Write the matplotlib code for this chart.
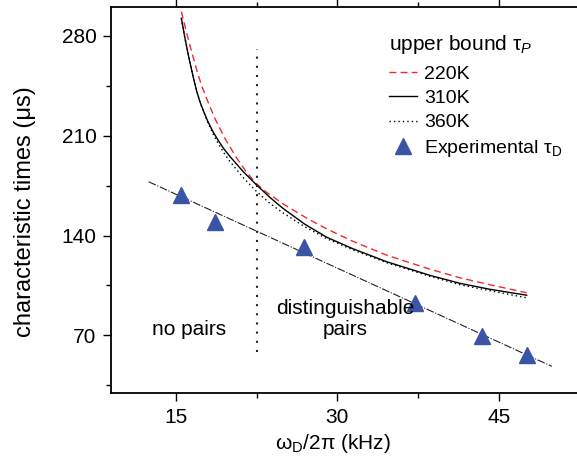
"""Characteristic times vs drive frequency: upper bounds and experimental points."""

import matplotlib

matplotlib.use("Agg")
import matplotlib.pyplot as plt
from matplotlib.ticker import MultipleLocator

# upper bound tau_P curves
X_220K = [15.53, 15.99, 16.46, 17.07, 17.46, 17.85, 18.62, 19.55, 20.63, 21.50,
          22.42, 23.35, 24.93, 26.23, 27.43, 29.01, 31.42, 34.58, 38.57, 41.35,
          44.14, 47.57]
Y_220K = [297.1, 283.0, 269.5, 253.0, 244.2, 236.5, 222.4, 208.4, 194.7, 185.2,
          176.8, 170.8, 162.4, 156.4, 151.0, 144.7, 136.0, 126.2, 116.4, 110.4,
          105.5, 99.8]

X_310K = [15.53, 15.84, 16.21, 16.67, 16.95, 17.23, 17.60, 17.97, 18.43, 18.90,
          19.45, 20.01, 21.22, 22.42, 23.72, 24.93, 26.97, 29.01, 31.42, 34.58,
          38.57, 41.35, 44.14, 47.57]
Y_310K = [292.4, 279.3, 265.3, 249.8, 241.4, 234.3, 227.0, 220.3, 213.3, 207.3,
          201.0, 195.7, 185.2, 176.1, 166.9, 159.2, 148.0, 138.8, 130.8, 121.6,
          112.1, 106.5, 102.3, 98.1]

X_360K = [15.53, 15.84, 16.21, 16.67, 16.95, 17.23, 17.60, 17.97, 18.43, 18.90,
          19.45, 20.01, 21.22, 22.42, 23.72, 24.93, 26.97, 29.01, 31.42, 34.58,
          38.57, 41.35, 44.14, 47.57]
Y_360K = [292.4, 279.3, 265.3, 249.8, 241.4, 234.3, 226.6, 219.6, 211.9, 205.2,
          198.2, 192.2, 181.0, 171.5, 162.7, 156.0, 146.2, 137.8, 130.0, 120.9,
          111.4, 105.5, 101.3, 96.3]

# experimental tau_D
EXP_X = [15.51, 18.62, 26.88, 37.25, 43.47, 47.62]
EXP_Y = [168.5, 149.6, 131.6, 92.8, 69.6, 56.3]

# linear guide through the experimental points (end points)
FIT_X = [12.5, 49.9]
FIT_Y = [177.7, 48.2]

BOUNDARY_X = 22.5
BOUNDARY_Y = [58.0, 271.0]

X_TICKS = [15, 30, 45]
Y_TICKS = [70, 140, 210, 280]


def main() -> None:
    plt.rcParams["font.family"] = ["Liberation Sans", "DejaVu Sans"]
    plt.rcParams["mathtext.fontset"] = "custom"
    plt.rcParams["mathtext.rm"] = "Liberation Sans"
    plt.rcParams["mathtext.it"] = "Liberation Sans:italic"

    fig = plt.figure(figsize=(5.77, 4.59), dpi=100)
    ax = fig.add_axes([0.1924, 0.1438, 0.8106, 0.8399])

    ax.plot(X_220K, Y_220K, color="#ee2a2a", lw=1.0, ls=(0, (5, 3)), label="220K")
    ax.plot(X_310K, Y_310K, color="black", lw=1.0, label="310K")
    ax.plot(X_360K, Y_360K, color="black", lw=1.0, ls=(0, (1, 2.2)), label="360K")
    ax.plot(FIT_X, FIT_Y, color="#222222", lw=0.8, ls=(0, (7, 1.5, 1, 1.5)))
    ax.plot([BOUNDARY_X, BOUNDARY_X], BOUNDARY_Y, color="#222222", lw=1.5,
            ls=(0, (1, 3.4)))
    ax.plot(EXP_X, EXP_Y, ls="none", marker="^", ms=11, color="#3a55a5",
            mec="#3a55a5", label=r"Experimental $\mathrm{\tau_D}$")

    ax.text(16.27, 70, "no pairs", fontsize=15, ha="center", va="baseline")
    ax.text(30.7, 70, "distinguishable\npairs", fontsize=15, ha="center",
            va="baseline", multialignment="center", linespacing=1.15)

    ax.set_xlim(9, 52.4)
    ax.set_ylim(29.5, 300)
    ax.set_xticks(X_TICKS)
    ax.set_yticks(Y_TICKS)
    ax.xaxis.set_minor_locator(MultipleLocator(7.5))
    ax.yaxis.set_minor_locator(MultipleLocator(35))
    ax.tick_params(which="major", length=6, width=1.0, labelsize=15, pad=4.5)
    ax.tick_params(which="minor", length=3.5, width=1.0)
    ax.tick_params(axis="x", which="both", top=True, bottom=False,
                   direction="in", length=1.5)
    ax.tick_params(axis="x", which="major", bottom=True, direction="out",
                   length=6)
    ax.tick_params(axis="x", which="minor", bottom=True, direction="out",
                   length=3.5)
    ax.spines["right"].set_visible(False)
    for side in ("left", "bottom", "top"):
        ax.spines[side].set_linewidth(1.3)

    ax.set_xlabel(r"$\mathrm{\omega_D}/2\mathrm{\pi}$ (kHz)", fontsize=15)
    ax.xaxis.set_label_coords(0.475, -0.10)
    ax.set_ylabel("characteristic times (μs)", fontsize=17)
    ax.yaxis.set_label_coords(-0.16, 0.47)

    leg = ax.legend(
        title=r"upper bound $\mathrm{\tau}_P$",
        loc="upper left",
        bbox_to_anchor=(0.595, 0.934),
        frameon=False,
        fontsize=14,
        title_fontsize=15,
        alignment="left",
        handlelength=1.4,
        handletextpad=0.4,
        labelspacing=0.33,
        borderpad=0,
        borderaxespad=0,
        numpoints=1,
    )
    leg._legend_box.sep = 7

    fig.savefig("out.png", dpi=100)
    plt.close(fig)


if __name__ == "__main__":
    main()
